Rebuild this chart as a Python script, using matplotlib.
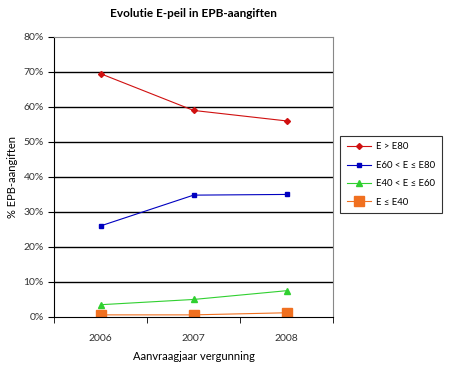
import matplotlib.pyplot as plt
import numpy as np

years = ["2006", "2007", "2008"]
labels = ["E > E80", "E60 < E \u2264 E80", "E40 < E \u2264 E60", "E \u2264 E40"]
e_above_80 = [69.5, 59.0, 56.0]
e_60_80 = [26.0, 34.8, 35.0]
e_40_60 = [3.5, 5.0, 7.5]
e_below_40 = [0.6, 0.6, 1.2]

series = [e_above_80, e_60_80, e_40_60, e_below_40]
colors = ["#d01010", "#0000c0", "#30d030", "#f07020"]
markers = ["D", "s", "^", "s"]
msizes = [3, 3.5, 4, 7]

plt.rcParams['font.family'] = ['Lato', 'DejaVu Sans']

fig = plt.figure(figsize=(4.5, 3.69), dpi=100)
ax = fig.add_axes([0.12, 0.141, 0.62, 0.759])

x = np.arange(len(years))
for vals, lab, c, m, ms in zip(series, labels, colors, markers, msizes):
    ax.plot(x, vals, color=c, marker=m, markersize=ms, linewidth=0.8, label=lab)

ax.set_xlim(-0.5, 2.5)
ax.set_ylim(0, 80)
ax.set_yticks(np.arange(0, 81, 10))
ax.set_yticklabels([f"{v}%" for v in range(0, 81, 10)], fontsize=7.5, color="#333333")
ax.set_xticks(x)
ax.set_xticklabels(years, fontsize=7.5, color="#333333")
ax.set_xticks([-0.5, 0.5, 1.5, 2.5], minor=True)
ax.tick_params(axis='x', which='major', length=0, pad=12)
ax.tick_params(axis='x', which='minor', length=4, direction='out')
ax.tick_params(axis='y', length=4, direction='out')

for v in range(10, 80, 10):
    ax.axhline(v, color="black", linewidth=1, zorder=0)

ax.spines['top'].set_color("#888888")
ax.spines['right'].set_color("#888888")
ax.spines['left'].set_color("black")
ax.spines['bottom'].set_color("black")

ax.set_title("Evolutie E-peil in EPB-aangiften", fontsize=8.5, fontweight='bold', pad=14)
ax.set_xlabel("Aanvraagjaar vergunning", fontsize=8, labelpad=6)
ax.set_ylabel("% EPB-aangiften", fontsize=8, labelpad=4)

leg = fig.legend(loc='upper left', bbox_to_anchor=(0.756, 0.632), fontsize=6.8,
                 frameon=True, fancybox=False, edgecolor='black', handlelength=2.6,
                 handletextpad=0.5, borderpad=0.7, labelspacing=1.0, borderaxespad=0)
leg.get_frame().set_linewidth(0.8)

fig.savefig("out.png", dpi=100)
